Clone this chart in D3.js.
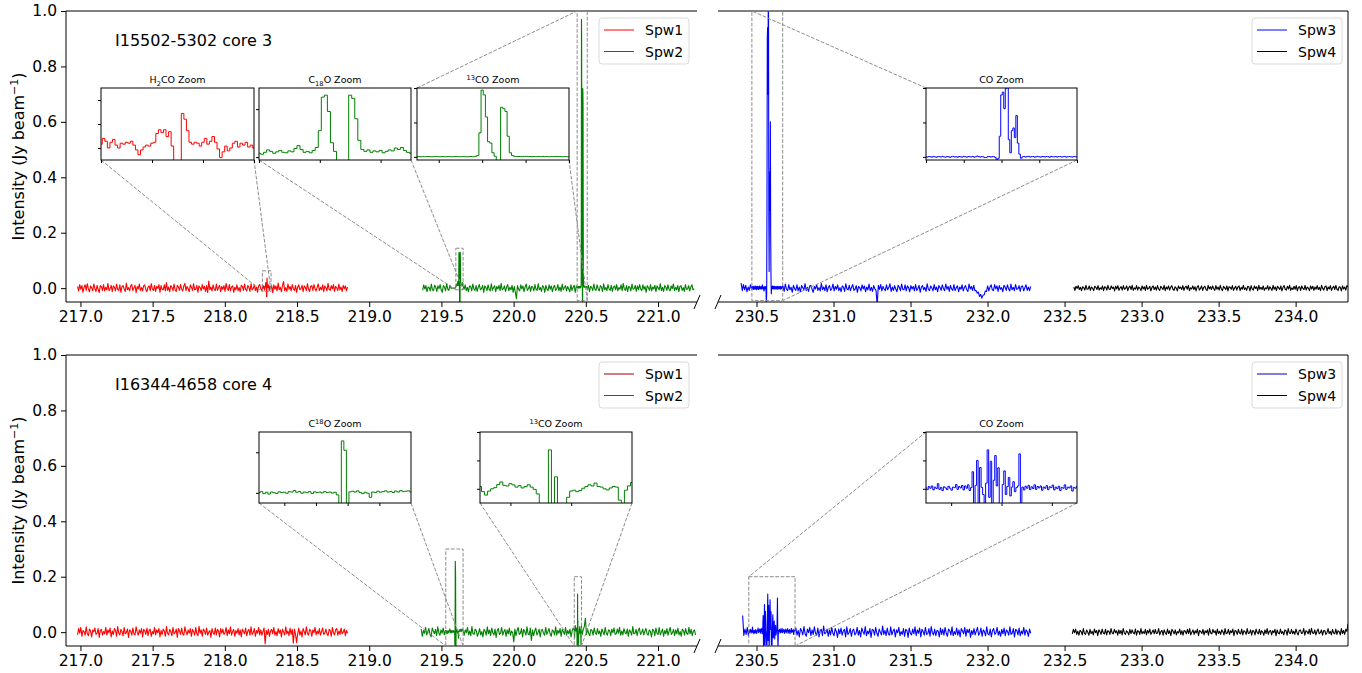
<!DOCTYPE html>
<html>
<head>
<meta charset="utf-8">
<script src="https://cdn.jsdelivr.net/npm/d3@7"></script>
<style>
  body { margin: 0; background: #fff; }
  svg { display: block; }
  text { font-family: "DejaVu Sans", sans-serif; fill: #000; }
</style>
</head>
<body>
<svg id="chart" width="1362" height="673"></svg>
<script>
// ---------------------------------------------------------------------------
// Spectra of two cores, four spectral windows each (Jy/beam vs GHz)
// ---------------------------------------------------------------------------
const sourceNames = ["I15502-5302 core 3", "I16344-4658 core 4"];
const spwNames = ["Spw1", "Spw2", "Spw3", "Spw4"];
const spwColors = ["red", "green", "blue", "black"];
const legendColorsB = ["#a00000", "green", "#0000a8", "black"];

// Frequency coverage of each spectral window (GHz)
const coverageA = [[216.98, 218.85], [219.37, 221.25], [230.40, 232.28], [232.56, 234.34]];
const coverageB = [[216.98, 218.85], [219.36, 221.26], [230.41, 232.28], [232.55, 234.34]];

// Channel samples across each window, mJy/beam (evenly spaced over the coverage)
const a_spw1 = [6,-10,13,-4,9,-15,3,12,-8,16,-3,-13,8,2,-9,15,-2,-12,10,-4,-16,9,5,-8,13,
  -10,3,-6,17,-9,-2,10,-13,8,3,-10,15,-4,-8,12,-15,6,9,-3,-12,18,-6,2,-10,8,
  13,-9,1,10,-16,6,-3,15,-8,2,-10,9,12,-6,-13,4,8,-9,16,-3,-8,10,-12,6,-1,
  13,-15,9,-4,-6,12,-10,20,-8,4,-13,9,3,-9,15,-6,-12,10,4,-8,13,-3,-10,8,17,
  -9,6,-2,-13,12,3,-8,16,-6,-4,10,-15,8,2,-9,13,-3,6,-12,9,-16,26,-6,4,-10,
  12,-3,-9,15,-8,2,10,-13,6,-4,9,-12,17,-2,-8,13,-10,4,8,-15,3,-6,12,-9,2,
  -13,10,6,-8,15,-4,-10,9,3,-12,16,-6,-2,12,-9,4,-15,8,13,-3,-9,0,0,0,0,
  0,0,0,0,9,-16,12,-4,8,-10,18,-6,3,-13,10,24,-9,2,-12,15,-4,6,-10,13,-3,
  -8,9,-15,4,12,-6,-2,10,-13,8,3,-9,16,-4,-12,6,9,-8,13,-2,-10,4,15,-9,3,
  -6,12,-13,8,2,-10,17,-4,-8,9,-3,13,-12,6,1,-9,15,-6,4,-13,10,-2,8,-9,4];
const a_spw2 = [-8,12,-3,9,-13,4,2,-10,15,-6,-9,10,3,-12,8,-2,13,-6,-15,9,4,-10,16,-3,-8,
  10,0,0,0,0,0,0,0,0,0,0,0,0,-4,12,-9,3,-13,8,6,-10,15,-3,-8,9,
  -12,4,13,-6,-2,10,-15,8,3,-9,12,-4,-10,16,-8,2,9,-13,6,-3,10,-9,17,-6,-2,
  8,-12,4,13,-9,3,-6,10,-15,6,-14,-38,9,-4,-10,12,-3,8,-13,4,15,-8,-2,9,-12,
  6,3,-10,13,-4,-8,16,-6,2,-12,9,4,-15,10,-3,-9,12,-4,8,-13,3,10,-8,-2,13,
  -9,4,-12,15,-6,2,9,-10,6,-3,-13,12,-8,3,10,-15,8,0,0,0,0,0,0,0,0,
  0,-4,10,-13,6,3,-9,15,-4,-8,12,-2,-10,9,4,-12,16,-6,2,-9,13,-3,-8,10,-12,
  4,8,-6,13,-10,2,-4,12,-9,17,-3,-8,9,-13,6,3,-10,15,-4,-2,10,-12,8,-6,13,
  -3,-9,12,-4,6,-15,9,2,-8,13,-10,4,-3,10,-13,8,1,-6,16,-9,3,-12,9,4,-8,
  12,-4,-10,8,-2,15,-9,3,-6,10,-13,6,9,-8,2,-12,13,-4,-3,9,-10,4,12,-6,-2];
const a_spw3 = [18,-9,13,-6,10,-13,4,-8,12,-3,0,0,0,0,0,0,0,0,0,0,0,0,0,0,0,
  0,0,0,0,0,0,0,0,0,0,0,8,-12,15,-4,-9,13,-6,3,-15,10,-2,-8,12,-10,
  4,-13,9,2,-6,16,-9,3,-12,8,10,-4,-15,6,-3,13,-8,2,-10,17,-6,4,-9,12,-13,
  3,9,-8,-2,15,-10,6,-4,12,-9,2,-13,8,4,-12,16,-3,-6,10,-9,3,13,-8,-4,9,
  -15,6,2,-10,12,-3,8,-13,4,-6,15,-9,3,-12,9,-2,-8,-60,10,-4,13,-10,6,-3,-9,
  12,-6,2,16,-12,4,-8,9,-3,-13,10,3,-9,15,-4,-6,12,-10,8,2,-13,9,-3,6,-10,
  13,-8,-2,10,-15,4,9,-6,3,-12,16,-4,-9,8,1,-10,13,-6,4,-13,9,3,-8,12,-2,
  -9,15,-4,6,-12,10,-3,-8,13,-9,2,8,-13,4,-4,12,-10,3,9,-6,-12,15,-3,6,-8,
  10,-9,-8,-18,-14,-30,-22,-36,-26,-24,-10,-12,8,-10,4,12,-6,-9,13,-3,8,-12,9,-4,2,
  -13,10,4,-8,12,-2,-10,15,-6,3,-9,13,-4,-3,9,-12,6,8,-10,2,12,-8,4,-9,6];
const a_spw4 = [4,-8,7,-1,9,-5,3,-9,5,1,-7,10,-4,-3,8,-8,4,0,-9,7,3,-5,9,-7,1,
  -4,8,-9,5,3,-7,10,-3,-5,8,-1,4,-10,7,-3,9,-8,1,5,-7,9,-4,-1,8,-9,
  3,7,-5,10,-8,1,-4,9,-7,4,0,-9,8,-3,5,-8,10,-4,-1,7,-10,3,8,-5,4,
  -7,9,-3,-8,7,1,-5,10,-9,4,-3,8,-7,3,9,-4,-8,5,0,-10,8,-1,4,-5,9,
  -8,3,7,-4,10,-9,1,-3,8,-5,5,-10,4,9,-7,-1,8,-8,3,7,-4,-9,10,-3,5,
  -5,8,-1,-8,9,-4,4,-7,10,-3,-9,7,1,-5,8,-10,5,3,-4,9,-8,0,7,-7,4,
  8,-9,3,-4,10,-5,1,-8,7,4,-10,9,-3,-7,8,-1,5,-9,10,-4,3,-5,8,-8,1,
  -3,9,-7,5,-1,-8,10,-4,4,-9,7,1,-5,8,-10,3,9,-4,-7,7,-3,10,-8,1,-5,
  7,-4,9,-10,3,5,-8,8,-1,-5,10,-7,4,0,-9,8,-3,7,-8,4,-4,9,-5,3,-9,
  10,-1,-7,5,8,-9,4,-3,9,-8,1,7,-5,10,-4,-8,5,3,-10,8,-3,4,-7,9,5];

const b_spw1 = [-10,13,-4,17,-15,6,2,-11,19,-6,-13,11,4,-17,8,1,15,-8,-4,13,-19,6,10,-11,2,
  -6,17,-10,8,-2,15,-17,4,-8,13,6,-15,20,-4,-10,10,2,-13,17,-6,-2,11,-19,8,4,
  -11,15,-6,-10,19,0,-11,8,-4,13,-17,10,4,-8,15,-13,6,11,-15,2,-6,17,-10,8,-2,
  13,-17,6,-8,11,4,-15,20,-4,-10,10,2,-13,17,-6,-2,11,-19,13,4,-8,15,-6,-11,19,
  1,-10,8,-4,13,-15,10,2,-11,17,-6,-13,21,-4,8,-15,11,4,-8,15,-11,0,6,-19,13,
  -2,-8,15,-10,10,4,-17,13,-4,11,-8,-2,17,-13,8,-6,19,-11,2,10,-15,6,-4,13,-10,
  8,-17,11,2,-6,15,-13,4,10,-11,19,-8,-2,13,-15,6,-4,17,-10,8,-11,2,15,-42,6,
  -8,11,-15,4,10,-6,17,-11,2,-13,13,-4,8,-17,11,0,-10,19,-6,4,-13,15,-8,10,-40,
  11,-8,-38,-6,15,-11,4,-17,13,2,-10,19,-4,-11,10,6,-15,8,-2,17,-10,4,-6,13,-11,
  2,15,-8,-4,11,-6,-13,10,6,-15,17,-2,-10,8,13,-11,4,-8,15,-6,0,11,-13,6,-4];
const b_spw2 = [11,-15,6,-4,17,-10,2,13,-8,-17,15,4,-6,10,-13,19,-2,-11,8,-4,15,-10,6,0,0,
  0,0,0,0,0,0,0,0,0,0,0,0,0,0,-11,8,-2,17,-10,4,-13,20,-6,-8,11,
  6,-15,-4,13,-10,2,-17,10,4,-11,19,-6,8,-13,15,-2,-10,11,-19,6,13,-8,-4,17,-11,
  2,10,-15,8,-6,15,-11,4,-2,-35,11,-13,6,17,-8,-4,13,-17,10,2,-11,19,-6,-10,15,
  -30,8,-13,4,15,-10,-2,11,-17,6,10,-4,-11,17,-8,2,13,-6,-15,8,4,-10,19,-11,6,
  -4,13,-15,10,2,-8,17,-11,6,-6,11,-17,4,15,0,0,0,0,0,0,0,-10,8,20,50,
  -8,11,-4,-13,10,6,-11,15,-2,-8,13,-6,4,-15,11,2,-10,17,-4,-11,8,6,-13,10,-2,
  15,-8,-6,11,-4,17,-11,4,-10,13,-2,-6,11,-15,8,2,-11,20,-6,-4,10,-13,6,15,-8,
  -2,11,-10,4,13,-6,-11,8,2,-17,10,6,-13,15,-4,-8,17,-10,0,11,-15,6,-6,13,-11,
  4,17,-8,-2,10,-13,8,-6,15,-10,2,-15,11,6,-11,13,-4,-8,17,-6,10,-13,4,8,-10];
const b_spw3 = [60,-12,11,-8,17,-13,0,0,0,0,0,0,0,0,0,0,0,0,0,0,0,0,0,0,0,
  0,0,0,0,0,0,0,0,0,0,0,0,0,0,0,0,0,0,0,0,0,15,-11,6,-17,
  13,4,-10,20,-6,-15,11,-2,17,-13,8,-8,19,-4,-11,15,-17,6,10,-13,22,-6,-2,11,-15,
  8,-10,17,-4,-13,13,2,-19,11,-6,15,-11,4,10,-17,19,-8,-2,13,-15,6,11,-10,-4,17,
  -11,6,-17,15,2,-8,20,-13,4,-6,13,-19,10,8,-11,17,-4,-15,11,0,-10,22,-8,6,-13,
  15,-6,-11,19,-10,4,11,-17,8,-2,17,-13,2,-8,13,-15,10,6,-19,15,-4,-10,11,-6,19,
  -13,8,-4,15,-17,10,2,-11,17,-8,-6,13,-15,20,-2,-10,11,-13,6,4,-17,15,-8,10,-11,
  17,-4,-15,11,6,-10,19,-13,2,-8,15,-11,8,-17,13,4,-6,17,-15,10,-2,11,-19,6,-8,
  13,-10,4,17,-11,-4,15,-15,8,2,-13,19,-6,-10,11,-17,6,13,-8,-2,17,-11,4,-15,10,
  -6,15,-13,8,2,-11,19,-8,-4,13,-17,10,6,-10,15,-13,4,-6,17,-11,8,2,-15,11,-4];
const b_spw4 = [-6,10,-2,11,-8,3,-11,6,2,-10,13,-5,-8,8,0,-11,10,-5,3,-10,11,-2,6,-13,8,
  2,-8,11,-3,-6,10,-10,5,3,-8,13,-3,-6,10,-2,5,-11,8,-5,6,-10,13,-3,-8,5,
  0,-10,10,-5,8,-2,-6,11,-11,5,3,-8,13,-6,2,-5,10,-10,6,-3,11,-8,0,8,-6,
  10,-5,-3,13,-10,2,6,-11,8,-2,-8,11,-5,5,-13,10,3,-6,8,-10,2,-3,11,-8,5,
  -11,6,3,-6,10,-5,13,-10,0,8,-8,5,-3,11,-13,6,2,-5,10,-10,5,-2,8,-11,13,
  -3,-6,10,-2,5,-11,11,-5,3,-8,8,2,-10,13,-6,-3,10,-8,5,-2,11,-13,6,3,-8,
  10,-3,-6,11,-10,5,2,-8,13,-5,-3,8,-11,6,3,-10,11,-2,-6,10,-8,5,0,-11,8,
  -5,13,-8,3,6,-10,5,-2,10,-13,8,-3,-6,11,-5,2,-10,8,5,-11,13,-3,-5,10,-6,
  3,-8,11,-2,-10,6,8,-5,-3,13,-11,5,2,-6,10,-8,14,-3,-5,8,-10,3,11,-6,-2,
  8,-11,5,6,-8,-2,13,-5,3,-10,10,-3,-6,11,-8,5,2,-10,13,-5,6,-8,10,3,30];

// Fine channel samples around the lines (Jy/beam), evenly spaced over each window
const a_h2coFreq = [218.26, 218.32];
const a_h2co = [0.004,0.010,0.007,0.000,0.006,0.009,0.003,0.000,0.005,0.004,0.006,0.005,0.007,0.003,-0.002,
  -0.007,-0.002,0.001,0.003,0.002,0.005,0.006,0.015,0.019,0.016,0.019,0.012,0.017,0.002,-0.03,-0.03,-0.03,
  0.036,0.030,0.018,0.006,0.004,0.006,0.005,0.002,0.006,0.010,0.004,0.007,0.012,0.006,-0.001,-0.010,-0.004,
  0.002,-0.003,0.000,0.005,0.007,0.001,0.005,0.003,0.006,0.001,0.003,0.000];
const a_c18oFreq = [219.60, 219.65];
const a_c18o = [0.008,0.006,0.010,0.015,0.012,0.008,0.011,0.014,0.010,0.009,0.013,0.011,0.018,0.024,0.016,
  0.010,0.012,0.009,0.014,0.020,0.055,0.125,0.129,0.095,0.030,0.012,-0.08,-0.08,-0.08,-0.08,0.129,0.122,
  0.080,0.035,0.016,0.012,0.015,0.010,0.013,0.011,0.014,0.009,0.012,0.015,0.013,0.019,0.016,0.020,0.014,
  0.010,0.008];
const a_13coFreq = [220.44, 220.51];
const a_13co = [0.003,0.004,0.001,0.005,0.002,0.006,0.003,0.000,0.004,0.007,0.003,0.002,0.005,0.001,0.004,
  0.006,0.002,0.003,0.007,0.004,0.002,0.005,0.003,0.001,0.004,0.006,0.003,0.008,0.02,0.35,0.97,0.90,0.58,
  0.22,0.20,0.06,0.01,-0.10,-0.10,0.72,0.70,0.66,0.30,0.06,0.02,0.008,0.004,0.006,0.003,0.005,0.008,0.004,
  0.006,0.003,0.005,0.002,0.006,0.004,0.007,0.003,0.005,0.002,0.006,0.004,0.003,0.006,0.004,0.002,0.005,
  0.003,0.001];
const a_coFreq = [230.47, 230.67];
const a_co = [0.004,-0.003,0.006,0.002,-0.004,0.007,0.001,-0.005,0.005,0.003,-0.002,0.008,0.000,-0.004,0.006,
  0.002,-0.006,0.004,0.007,-0.002,0.003,-0.005,0.006,0.001,-0.003,0.008,0.002,-0.004,0.005,0.003,-0.001,
  0.006,-0.004,0.002,0.012,0.004,-0.003,0.005,0.001,-0.010,-0.008,0.003,0.006,-0.002,0.004,0.005,-0.010,
  -0.06,-0.02,0.30,0.90,0.94,0.70,0.99,1.02,0.25,0.06,0.38,0.42,0.28,0.60,0.20,0.04,-0.02,0.000,0.006,
  -0.003,0.004,0.008,-0.002,0.003,0.006,-0.004,0.002,0.007,0.001,-0.003,0.005,0.004,-0.002,0.006,0.003,
  -0.005,0.007,0.002,0.000,0.005,-0.003,0.006,0.004,-0.002,0.003,0.007,-0.004,0.002,0.005,0.001,-0.003,
  0.006,0.002,0.004];

const b_c18oFreq = [219.53, 219.65];
const b_c18o = [0.002,0.006,-0.004,0.003,-0.006,0.004,0.001,-0.003,0.005,0.002,0.003,-0.002,0.006,0.004,
  0.012,0.003,0.007,-0.002,0.004,0.001,0.006,-0.003,0.005,0.002,0.004,0.000,0.006,0.002,0.004,-0.001,
  0.003,-0.01,-0.08,0.256,0.21,-0.08,0.005,0.008,0.004,0.010,0.002,-0.004,0.003,-0.002,-0.022,0.004,
  0.002,0.008,0.003,0.006,0.010,0.004,0.007,0.002,0.009,0.004,0.011,0.006,0.008,0.010,0.004];
const b_13coFreq = [220.42, 220.47];
const b_13co = [0.008,-0.010,-0.022,-0.008,0.000,0.004,0.015,0.024,0.012,0.010,0.018,0.014,0.006,0.011,
  0.003,0.008,0.014,0.006,-0.002,-0.018,-0.08,-0.08,-0.08,0.137,-0.08,0.042,-0.08,-0.08,-0.08,-0.03,
  -0.008,-0.005,-0.010,-0.006,0.002,0.008,0.014,0.010,0.020,0.008,0.006,0.000,-0.004,0.003,0.008,0.006,
  -0.04,-0.06,-0.005,0.010,0.022];
const b_coFreq = [230.45, 230.75];
const b_co = [0.004,-0.003,0.008,0.002,0.010,-0.004,0.006,0.001,0.018,-0.002,0.005,-0.006,0.007,0.003,
  -0.003,0.009,0.002,-0.005,0.006,0.004,0.015,-0.002,0.008,0.003,0.012,-0.004,0.010,0.002,0.014,-0.006,
  0.004,0.060,-0.07,0.012,0.100,-0.07,0.075,0.005,-0.02,-0.07,0.020,0.137,-0.03,0.097,-0.07,0.030,0.117,
  0.010,0.074,-0.07,-0.07,0.015,0.063,-0.02,0.008,0.040,-0.025,0.006,0.025,-0.01,0.004,0.010,0.123,-0.07,
  0.006,-0.004,0.009,0.002,0.012,-0.003,0.007,0.001,0.014,-0.002,0.008,0.003,0.010,-0.005,0.006,0.002,
  0.011,-0.003,0.007,0.004,0.013,-0.004,0.006,0.001,0.009,-0.006,0.005,0.002,0.014,-0.002,0.006,0.003,
  0.010,-0.008,0.005,0.002,0.008];

// Axis ticks
const yTicks = [0.0, 0.2, 0.4, 0.6, 0.8, 1.0];
const lowBandTicks = [217.0, 217.5, 218.0, 218.5, 219.0, 219.5, 220.0, 220.5, 221.0];
const highBandTicks = [230.5, 231.0, 231.5, 232.0, 232.5, 233.0, 233.5, 234.0];

// ---------------------------------------------------------------------------
// Layout
// ---------------------------------------------------------------------------
const svg = d3.select("#chart");
const rowBoxes = [{ top: 11, bottom: 302 }, { top: 355, bottom: 646 }];
const bandBoxes = [{ left: 66, right: 697 }, { left: 718, right: 1348 }];
const xBand = [
  d3.scaleLinear().domain([216.9, 221.27]).range([bandBoxes[0].left, bandBoxes[0].right]),
  d3.scaleLinear().domain([230.25, 234.34]).range([bandBoxes[1].left, bandBoxes[1].right])
];
const yRow = rowBoxes.map(r => d3.scaleLinear().domain([-0.05, 1.0]).range([r.bottom, r.top]));
const GRAY = "#8c8c8c";
const TICK_FONT = 15.5;

function windowSpec(freq, values) { return { freq, values }; }

// Merge the window-wide samples with the finer samples inside line windows
function buildSpectrum(range, baseMilli, windows) {
  const [f0, f1] = range, n = baseMilli.length, pts = [];
  const inside = windows.filter(w => w.freq[0] >= f0 && w.freq[1] <= f1);
  baseMilli.forEach((v, i) => {
    const f = f0 + (f1 - f0) * i / (n - 1);
    if (!inside.some(w => f >= w.freq[0] && f <= w.freq[1])) pts.push([f, v / 1000]);
  });
  inside.forEach(w => {
    const m = w.values.length;
    w.values.forEach((v, j) => pts.push([w.freq[0] + (w.freq[1] - w.freq[0]) * j / (m - 1), v]));
  });
  return pts.sort((a, b) => a[0] - b[0]);
}

const winA = [windowSpec(a_h2coFreq, a_h2co), windowSpec(a_c18oFreq, a_c18o),
              windowSpec(a_13coFreq, a_13co), windowSpec(a_coFreq, a_co)];
const winB = [windowSpec(b_c18oFreq, b_c18o), windowSpec(b_13coFreq, b_13co), windowSpec(b_coFreq, b_co)];

const rowsData = [
  { name: sourceNames[0], coverage: coverageA, base: [a_spw1, a_spw2, a_spw3, a_spw4], windows: winA, legend: spwColors },
  { name: sourceNames[1], coverage: coverageB, base: [b_spw1, b_spw2, b_spw3, b_spw4], windows: winB, legend: legendColorsB }
];

// Zoom panels (position in px, frequency window, intensity limits, title parts)
const insets = [
  { row: 0, band: 0, box: [101, 88, 153, 72], win: winA[0], yDom: [-0.0125, 0.0625], color: "red",
    title: [["H", ""], ["2", "sub"], ["CO Zoom", ""]], xt: [218.26, 218.28, 218.30, 218.32], yt: [0, 0.025, 0.05], links: ["bl", "br"] },
  { row: 0, band: 0, box: [259, 88, 152, 72], win: winA[1], yDom: [-0.006, 0.144], color: "green",
    title: [["C", ""], ["18", "sub"], ["O Zoom", ""]], xt: [219.60, 219.62, 219.64], yt: [0, 0.1], links: ["bl", "br"] },
  { row: 0, band: 0, box: [417, 88, 152, 72], win: winA[2], yDom: [-0.045, 1.0], color: "green",
    title: [["13", "sup"], ["CO Zoom", ""]], xt: [220.45, 220.47, 220.49, 220.51], yt: [0, 0.5, 1.0], links: ["tl", "br"] },
  { row: 0, band: 1, box: [926, 88, 151, 72], win: winA[3], yDom: [-0.045, 1.0], color: "blue",
    title: [["CO Zoom", ""]], xt: [230.47, 230.52, 230.57, 230.62, 230.67], yt: [0, 0.5, 1.0], links: ["tl", "br"] },
  { row: 1, band: 0, box: [259, 432, 152, 71], win: winB[0], yDom: [-0.05, 0.30], color: "green",
    title: [["C", ""], ["18", "sup"], ["O Zoom", ""]], xt: [219.55, 219.575, 219.60, 219.625], yt: [0, 0.2], links: ["bl", "br"] },
  { row: 1, band: 0, box: [480, 432, 152, 71], win: winB[1], yDom: [-0.05, 0.20], color: "green",
    title: [["13", "sup"], ["CO Zoom", ""]], xt: [220.43, 220.45], yt: [0, 0.1, 0.2], links: ["bl", "br"] },
  { row: 1, band: 1, box: [926, 432, 151, 71], win: winB[2], yDom: [-0.05, 0.20], color: "blue",
    title: [["CO Zoom", ""]], xt: [230.5, 230.6, 230.7], yt: [0, 0.1, 0.2], links: ["tl", "br"] }
];

// ---------------------------------------------------------------------------
// Clip paths
// ---------------------------------------------------------------------------
const defs = svg.append("defs");
rowBoxes.forEach((r, ri) => bandBoxes.forEach((b, bi) => {
  defs.append("clipPath").attr("id", `clip-${ri}-${bi}`)
    .append("rect").attr("x", b.left).attr("y", r.top)
    .attr("width", b.right - b.left).attr("height", r.bottom - r.top);
}));

// ---------------------------------------------------------------------------
// Main panels
// ---------------------------------------------------------------------------
rowsData.forEach((rd, ri) => {
  const r = rowBoxes[ri], y = yRow[ri];

  // spectra
  rd.coverage.forEach((cov, si) => {
    const bi = si < 2 ? 0 : 1;
    const pts = buildSpectrum(cov, rd.base[si], rd.windows);
    svg.append("path")
      .attr("clip-path", `url(#clip-${ri}-${bi})`)
      .attr("d", d3.line().x(d => xBand[bi](d[0])).y(d => y(d[1]))(pts))
      .attr("fill", "none").attr("stroke", spwColors[si])
      .attr("stroke-width", 1.1).attr("stroke-linejoin", "round");
  });

  // spines
  const sp = (x1, y1, x2, y2) => svg.append("line").attr("x1", x1).attr("y1", y1).attr("x2", x2).attr("y2", y2)
    .attr("stroke", "#000").attr("stroke-width", 1);
  const L = bandBoxes[0], R = bandBoxes[1];
  sp(L.left, r.top, L.left, r.bottom);
  sp(L.left, r.top, L.right, r.top);
  sp(L.left, r.bottom, L.right, r.bottom);
  sp(R.left, r.top, R.right, r.top);
  sp(R.left, r.bottom, R.right, r.bottom);
  sp(R.right, r.top, R.right, r.bottom);

  // break marks
  [[L.right, r.bottom], [R.left, r.bottom]].forEach(([bx, by]) => {
    svg.append("line").attr("x1", bx - 3).attr("y1", by + 7).attr("x2", bx + 3).attr("y2", by - 7)
      .attr("stroke", "#000").attr("stroke-width", 1);
  });

  // axes
  const styleAxis = g => {
    g.select(".domain").remove();
    g.selectAll(".tick line").attr("stroke", "#000");
    g.selectAll(".tick text").attr("font-size", TICK_FONT).attr("font-family", "DejaVu Sans");
  };
  svg.append("g").attr("transform", `translate(0,${r.bottom})`)
    .call(d3.axisBottom(xBand[0]).tickValues(lowBandTicks).tickFormat(d3.format(".1f")).tickSize(5).tickPadding(4))
    .call(styleAxis);
  svg.append("g").attr("transform", `translate(0,${r.bottom})`)
    .call(d3.axisBottom(xBand[1]).tickValues(highBandTicks).tickFormat(d3.format(".1f")).tickSize(5).tickPadding(4))
    .call(styleAxis);
  svg.append("g").attr("transform", `translate(${L.left},0)`)
    .call(d3.axisLeft(y).tickValues(yTicks).tickFormat(d3.format(".1f")).tickSize(5).tickPadding(4))
    .call(styleAxis);

  // y label
  const yl = svg.append("text")
    .attr("transform", `translate(24,${(r.top + r.bottom) / 2}) rotate(-90)`)
    .attr("text-anchor", "middle").attr("font-size", 16);
  yl.append("tspan").text("Intensity (Jy beam");
  yl.append("tspan").attr("dy", -6).attr("font-size", 11).text("\u22121");
  yl.append("tspan").attr("dy", 6).text(")");

  // source label
  svg.append("text").attr("x", 115).attr("y", r.top + 35).attr("font-size", 16).text(rd.name);

  // legends
  [[599, 0], [1252, 2]].forEach(([lx, s0]) => {
    const g = svg.append("g").attr("transform", `translate(${lx},${r.top + 7})`);
    g.append("rect").attr("width", 90).attr("height", 46).attr("rx", 3)
      .attr("fill", "#fff").attr("fill-opacity", 0.8).attr("stroke", "#d9d9d9");
    [s0, s0 + 1].forEach((si, k) => {
      const yy = 12 + k * 21.5;
      g.append("line").attr("x1", 5).attr("x2", 35).attr("y1", yy).attr("y2", yy)
        .attr("stroke", rd.legend[si]).attr("stroke-width", 1);
      g.append("text").attr("x", 46).attr("y", yy).attr("dy", "0.36em")
        .attr("font-size", 14).text(spwNames[si]);
    });
  });
});

// ---------------------------------------------------------------------------
// Zoom panels with indicator boxes and connectors
// ---------------------------------------------------------------------------
insets.forEach((ins, k) => {
  const [bx, by, bw, bh] = ins.box;
  const xm = xBand[ins.band], ym = yRow[ins.row], r = rowBoxes[ins.row];
  const rx0 = xm(ins.win.freq[0]), rx1 = xm(ins.win.freq[1]);
  const ry0 = Math.max(r.top, ym(ins.yDom[1])), ry1 = Math.min(r.bottom, ym(ins.yDom[0]));

  // indicator rectangle
  svg.append("rect").attr("x", rx0).attr("y", ry0).attr("width", rx1 - rx0).attr("height", ry1 - ry0)
    .attr("fill", "none").attr("stroke", GRAY).attr("stroke-width", 1).attr("stroke-dasharray", "3.7,1.6");

  const cornerInset = { tl: [bx, by], tr: [bx + bw, by], bl: [bx, by + bh], br: [bx + bw, by + bh] };
  const cornerRect = { tl: [rx0, ry0], tr: [rx1, ry0], bl: [rx0, ry1], br: [rx1, ry1] };
  ins.links.forEach(c => {
    svg.append("line")
      .attr("x1", cornerInset[c][0]).attr("y1", cornerInset[c][1])
      .attr("x2", cornerRect[c][0]).attr("y2", cornerRect[c][1])
      .attr("stroke", GRAY).attr("stroke-width", 1).attr("stroke-dasharray", "3.7,1.6");
  });

  // inset panel
  const g = svg.append("g").attr("transform", `translate(${bx},${by})`);
  const xi = d3.scaleLinear().domain(ins.win.freq).range([0, bw]);
  const yi = d3.scaleLinear().domain(ins.yDom).range([bh, 0]);
  defs.append("clipPath").attr("id", `iclip-${k}`)
    .append("rect").attr("width", bw).attr("height", bh);
  g.append("rect").attr("width", bw).attr("height", bh).attr("fill", "#fff");
  const m = ins.win.values.length;
  const pts = ins.win.values.map((v, j) => [ins.win.freq[0] + (ins.win.freq[1] - ins.win.freq[0]) * j / (m - 1), v]);
  g.append("path").attr("clip-path", `url(#iclip-${k})`)
    .attr("d", d3.line().curve(d3.curveStep).x(d => xi(d[0])).y(d => yi(d[1]))(pts))
    .attr("fill", "none").attr("stroke", ins.color).attr("stroke-width", 1);
  g.append("rect").attr("width", bw).attr("height", bh).attr("fill", "none").attr("stroke", "#000").attr("stroke-width", 1);

  g.append("g").attr("transform", `translate(0,${bh})`)
    .call(d3.axisBottom(xi).tickValues(ins.xt).tickSize(3).tickFormat(""))
    .call(a => { a.select(".domain").remove(); a.selectAll("line").attr("stroke", "#000"); });
  g.append("g")
    .call(d3.axisLeft(yi).tickValues(ins.yt).tickSize(3).tickFormat(""))
    .call(a => { a.select(".domain").remove(); a.selectAll("line").attr("stroke", "#000"); });

  // title
  const t = g.append("text").attr("x", bw / 2).attr("y", -5).attr("text-anchor", "middle").attr("font-size", 9.5);
  let shift = 0;
  ins.title.forEach(([s, kind]) => {
    const target = kind === "sub" ? 2.5 : kind === "sup" ? -3.5 : 0;
    t.append("tspan").attr("dy", target - shift).attr("font-size", kind ? 6.7 : 9.5).text(s);
    shift = target;
  });
});
</script>
</body>
</html>
